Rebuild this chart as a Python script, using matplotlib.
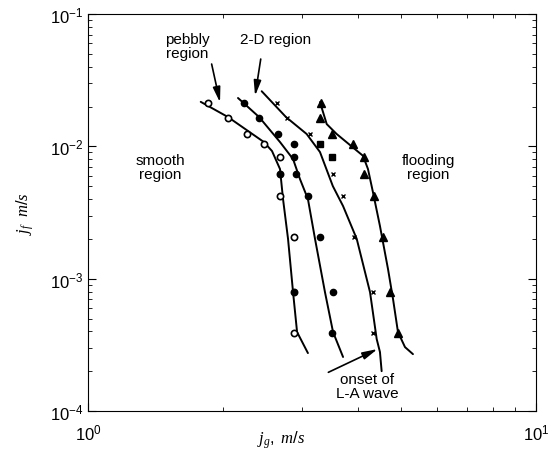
import matplotlib
matplotlib.use("Agg")
import matplotlib.pyplot as plt
from matplotlib.ticker import NullFormatter

plt.rcParams['font.family'] = ['Liberation Sans', 'DejaVu Sans']
plt.rcParams['mathtext.fontset'] = 'custom'
plt.rcParams['mathtext.rm'] = 'Liberation Sans'
plt.rcParams['mathtext.it'] = 'Liberation Serif:italic'

# measured points: gas flux jg (m/s) vs liquid flux jf (m/s)
jf_pts = [0.0212, 0.0164, 0.0124, 0.0104, 0.0083, 0.0062, 0.0042, 0.00205, 0.0008, 0.00039]

jg_circle = [1.85, 2.05, 2.26, 2.47, 2.68, 2.68, 2.68, 2.89, 2.89, 2.89]
circle_filled = [0, 0, 0, 0, 0, 1, 0, 0, 1, 0]

jg_dot = [2.23, 2.41, 2.655, 2.884, 2.89, 2.913, 3.097, 3.295, 3.518, 3.50]

jg_star = [2.637, 2.777, 3.13, 3.295, 3.50, 3.52, 3.71, 3.92, 4.33, 4.33]
star_square = [0, 0, 0, 1, 1, 0, 0, 0, 0, 0]

jg_tri = [3.31, 3.295, 3.51, 3.905, 4.13, 4.13, 4.35, 4.555, 4.72, 4.92]

# hand-fitted flooding curves
curve1_jg = [1.785, 2.054, 2.47, 2.575, 2.683, 2.725, 2.796, 2.869, 2.929, 3.097]
curve1_jf = [0.0217, 0.01665, 0.01078, 0.00922, 0.00674, 0.0040, 0.0020, 0.000792, 0.000395, 0.000274]

curve2_jg = [2.162, 2.41, 2.683, 2.869, 2.973, 3.097, 3.212, 3.381, 3.524, 3.71]
curve2_jf = [0.0232, 0.01665, 0.01078, 0.00802, 0.00566, 0.0040, 0.0020, 0.00079, 0.000395, 0.000256]

curve3_jg = [2.442, 2.767, 3.077, 3.295, 3.52, 3.71, 3.98, 4.262, 4.41, 4.485, 4.524]
curve3_jf = [0.0261, 0.01665, 0.0124, 0.00906, 0.00501, 0.00354, 0.0020, 0.00079, 0.00035, 0.000279, 0.0002]

curve4_jg = [3.295, 3.411, 3.59, 4.11, 4.217, 4.326, 4.485, 4.675, 4.797, 4.92, 5.101, 5.314]
curve4_jf = [0.0216, 0.01474, 0.0124, 0.00849, 0.00674, 0.00451, 0.0025, 0.00118, 0.000701, 0.000395, 0.000304, 0.000269]


def main():
	fig = plt.figure(figsize=(5.48, 4.56), dpi=100)
	ax = fig.add_axes([0.1606, 0.0965, 0.8174, 0.8705])

	for cx, cy in [(curve1_jg, curve1_jf), (curve2_jg, curve2_jf),
				   (curve3_jg, curve3_jf), (curve4_jg, curve4_jf)]:
		ax.plot(cx, cy, color='k', lw=1.4, solid_capstyle='round')

	for x, y, f in zip(jg_circle, jf_pts, circle_filled):
		ax.plot(x, y, 'o', ms=4.5, mec='k', mew=1.2, mfc='k' if f else 'white')

	ax.plot(jg_dot, jf_pts, 'o', ms=4.5, color='k')

	for x, y, s in zip(jg_star, jf_pts, star_square):
		if s:
			ax.plot(x, y, 's', ms=4, color='k')
		else:
			ax.plot(x, y, 'x', ms=3.5, mew=1.0, color='k')

	ax.plot(jg_tri, jf_pts, '^', ms=5.5, color='k')

	ax.set_xscale('log')
	ax.set_yscale('log')
	ax.set_xlim(1, 10)
	ax.set_ylim(1e-4, 1e-1)
	ax.xaxis.set_minor_formatter(NullFormatter())
	ax.tick_params(which='both', direction='in', top=True, right=True,
				   labelsize=12)
	ax.tick_params(which='major', length=6)
	ax.tick_params(which='minor', length=3)
	ax.tick_params(axis='x', pad=8)

	ax.set_xlabel(r'$\mathit{j_g},\ \mathit{m/s}$', fontsize=12)
	ax.xaxis.set_label_coords(0.43, -0.045)
	ax.set_ylabel(r'$\mathit{j_f}\ \ \mathit{m/s}$', fontsize=12, labelpad=10)

	arrow = dict(arrowstyle='-|>,head_length=0.9,head_width=0.22', lw=1.2, color='k',
				 shrinkA=0, shrinkB=0)
	ax.text(1.663, 0.0573, 'pebbly\nregion', ha='center', va='center', fontsize=11,
			linespacing=1.0)
	ax.annotate('', xy=(1.971, 0.0215), xytext=(1.888, 0.0419), arrowprops=arrow)
	ax.text(2.628, 0.0647, '2-D region', ha='center', va='center', fontsize=11)
	ax.annotate('', xy=(2.36, 0.0241), xytext=(2.43, 0.0457), arrowprops=arrow)
	ax.text(1.448, 0.00698, 'smooth\nregion', ha='center', va='center', fontsize=11,
			linespacing=1.0)
	ax.text(5.74, 0.00698, 'flooding\nregion', ha='center', va='center', fontsize=11,
			linespacing=1.0)
	ax.text(4.196, 0.000154, 'onset of\nL-A wave', ha='center', va='center', fontsize=11,
			linespacing=1.0)
	ax.annotate('', xy=(4.43, 0.000294), xytext=(3.44, 0.000196), arrowprops=arrow)

	fig.savefig('out.png', dpi=100)


if __name__ == "__main__":
	main()
